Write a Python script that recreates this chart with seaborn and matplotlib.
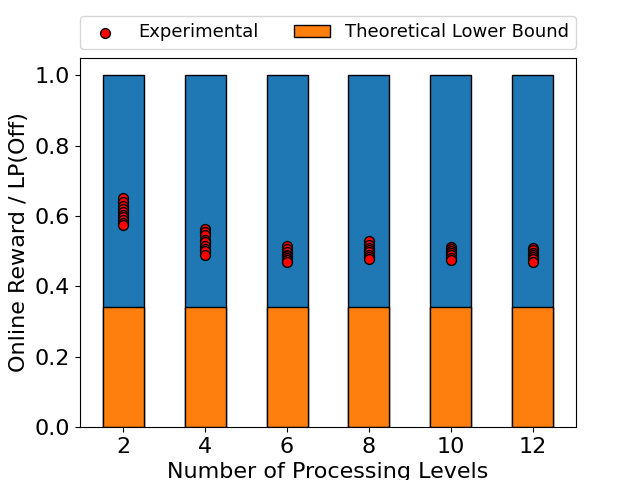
import numpy as np
import pandas as pd
import matplotlib
matplotlib.use("Agg")
import matplotlib.pyplot as plt
import seaborn as sns

# Processing levels on the x axis
levels = [2, 4, 6, 8, 10, 12]

# Upper reference (normalised to 1) and theoretical lower bound
upper_ratio = [1.0, 1.0, 1.0, 1.0, 1.0, 1.0]
lower_bound = [0.341, 0.341, 0.341, 0.341, 0.341, 0.341]

# Experimental runs (online reward / LP(Off))
exp_2 = [0.651, 0.640, 0.628, 0.620, 0.612, 0.604, 0.597, 0.588, 0.580, 0.574]
exp_4 = [0.562, 0.555, 0.545, 0.533, 0.525, 0.515, 0.505, 0.500, 0.490]
exp_6 = [0.514, 0.505, 0.497, 0.490, 0.485, 0.480, 0.475, 0.470]
exp_8 = [0.528, 0.518, 0.510, 0.503, 0.497, 0.490, 0.483, 0.479]
exp_10 = [0.512, 0.507, 0.500, 0.495, 0.488, 0.481, 0.474]
exp_12 = [0.508, 0.502, 0.496, 0.490, 0.484, 0.477, 0.470]

exp_runs = [exp_2, exp_4, exp_6, exp_8, exp_10, exp_12]
exp_df = pd.DataFrame({
    'level': np.repeat(levels, [len(r) for r in exp_runs]),
    'ratio': np.concatenate(exp_runs),
})
bars_df = pd.DataFrame({'level': levels, 'upper': upper_ratio, 'lower': lower_bound})

fig, ax = plt.subplots(figsize=(6.4, 4.8), dpi=100)

sns.barplot(data=bars_df, x='level', y='upper', native_scale=True, width=0.5,
            color='#1f77b4', saturation=1, edgecolor='black', linewidth=1,
            ax=ax)
sns.barplot(data=bars_df, x='level', y='lower', native_scale=True, width=0.5,
            color='#ff7f0e', saturation=1, edgecolor='black', linewidth=1,
            label='Theoretical Lower Bound', ax=ax)
sns.scatterplot(data=exp_df, x='level', y='ratio', color='red', edgecolor='black',
                linewidth=1, s=50, label='Experimental', zorder=3, ax=ax)

ax.set_xticks(levels)
ax.set_xlabel('Number of Processing Levels', fontsize=16)
ax.set_ylabel('Online Reward / LP(Off)', fontsize=16)
ax.tick_params(labelsize=16)

handles, labels = ax.get_legend_handles_labels()
order = [labels.index('Experimental'), labels.index('Theoretical Lower Bound')]
ax.legend([handles[i] for i in order], [labels[i] for i in order],
          loc='lower center', bbox_to_anchor=(0.5, 1.0), ncol=2, fontsize=13)

plt.savefig('out.png')
